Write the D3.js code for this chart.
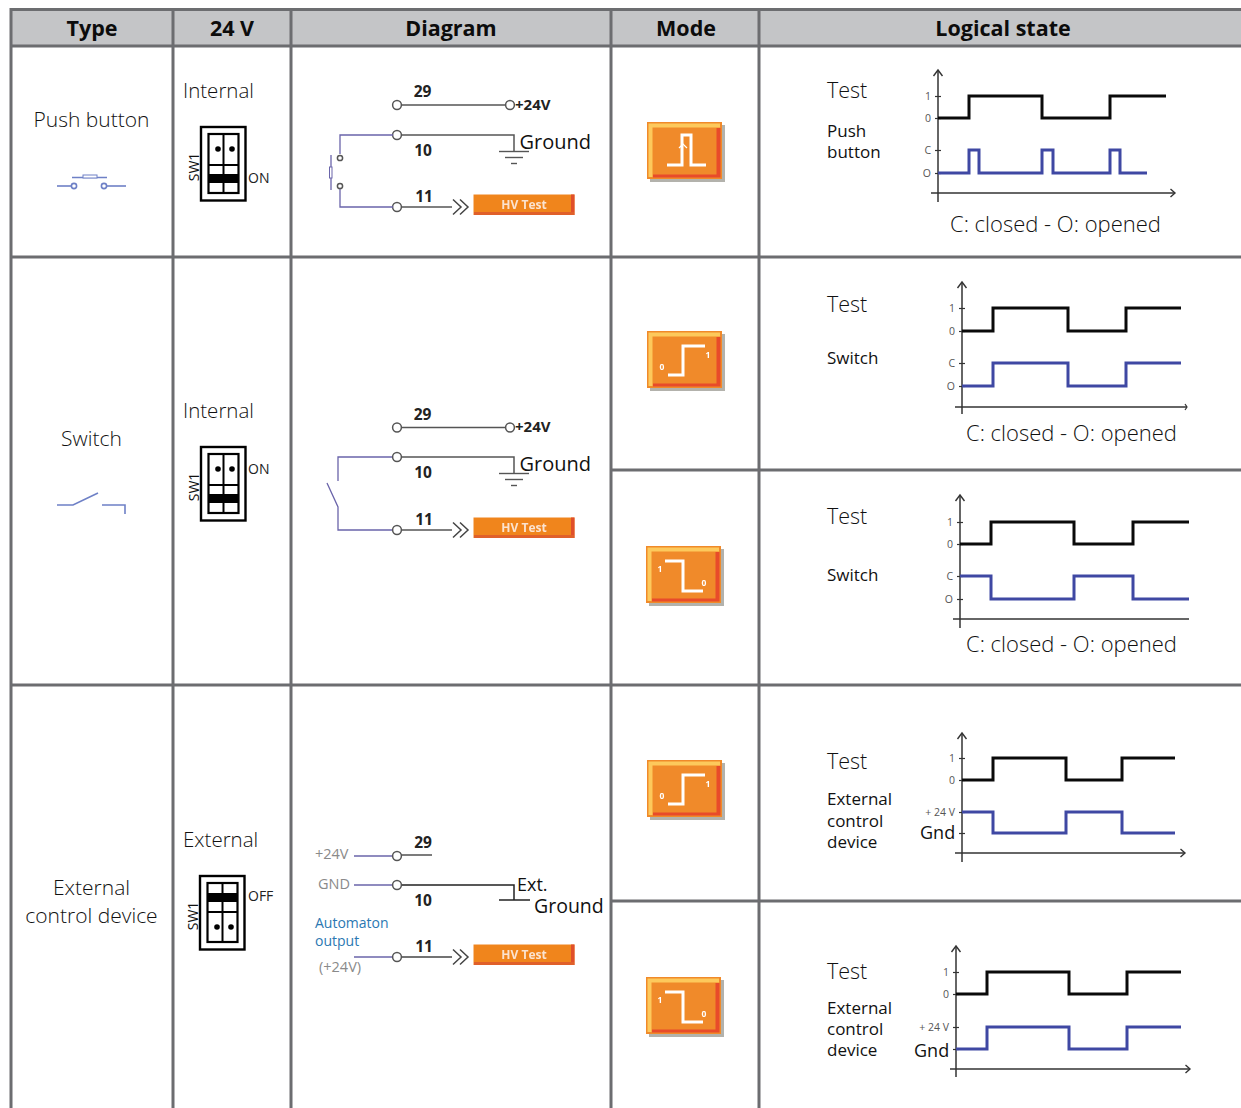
<!DOCTYPE html>
<html><head><meta charset="utf-8">
<style>html,body{margin:0;padding:0;background:#fff;overflow:hidden}svg{display:block}text{font-family:"Open Sans",sans-serif}</style>
<script src="https://cdnjs.cloudflare.com/ajax/libs/d3/7.9.0/d3.min.js"></script>
</head><body><svg id="c" width="1241" height="1108"><defs><filter id="soft" x="-5%" y="-5%" width="110%" height="110%"><feGaussianBlur stdDeviation="0.55"/></filter></defs></svg>
<script>
// ---- table text ----
const headers = ["Type","24 V","Diagram","Mode","Logical state"];
const typeLabels = [["Push button"],["Switch"],["External","control device"]];
const supplyLabels = ["Internal","Internal","External"];
const dipLabels = ["ON","ON","OFF"];
const modeIcons = ["pulse","rise","fall","rise","fall"];
const panelNames = [["Push","button"],["Switch"],["Switch"],["External","control","device"],["External","control","device"]];
const captions = ["C: closed - O: opened","C: closed - O: opened","C: closed - O: opened","",""];
const lowerTicks = [["O","C"],["O","C"],["O","C"],["","+ 24 V"],["","+ 24 V"]];
const sideNote = ["","","","Gnd","Gnd"];
// ---- logical state signals: [time, level] ----
const testSignals = [
 [[0,0],[31,1],[104,0],[172,1],[228,1]],
 [[0,0],[31,1],[106,0],[164,1],[219,1]],
 [[0,0],[31,1],[114,0],[173,1],[229,1]],
 [[0,0],[31,1],[104,0],[160,1],[213,1]],
 [[0,0],[31,1],[113,0],[171,1],[225,1]]
];
const contactSignals = [
 [[0,0],[31,1],[41,0],[104,1],[115,0],[172,1],[182,0],[209,0]],
 [[0,0],[31,1],[106,0],[164,1],[219,1]],
 [[0,1],[31,0],[114,1],[173,0],[229,0]],
 [[0,1],[31,0],[104,1],[160,0],[213,0]],
 [[0,0],[31,1],[113,0],[171,1],[225,1]]
];
// ---- layout only ----
const G="#6c6d70", HEAD="#c4c5c7", BLUE="#3f48a3", WIRE="#6a64aa", SYM="#6e80c6";
const colX=[11,173,291,611,759];
const rowLayout=[{top:46,bot:257,type:127,sup:98,dip:127,on:56},{top:257,bot:685,type:446,sup:418,dip:447,on:27},{top:685,bot:1108,type:895,sup:847,dip:876,on:25}];
const panels=[
 {ax:938,top:70,bot:202,hy:193,hx0:931,hx1:1175,arrow:true,y1:96,y0:118,c1:150,c0:173,tY:98,nY:[137,158],capX:950,capY:232},
 {ax:962,top:282,bot:414,hy:407,hx0:955,hx1:1187,arrow:false,y1:308,y0:331,c1:363,c0:386,tY:312,nY:[364],capX:966,capY:441},
 {ax:960,top:495,bot:628,hy:619,hx0:953,hx1:1189,arrow:false,y1:522,y0:544,c1:576,c0:599,tY:524,nY:[581],capX:966,capY:652},
 {ax:962,top:733,bot:862,hy:853,hx0:955,hx1:1185,arrow:true,y1:758,y0:780,c1:812,c0:833,tY:769,nY:[805,827,848],noteX:920,noteY:839},
 {ax:956,top:946,bot:1077,hy:1069,hx0:950,hx1:1190,arrow:true,y1:972,y0:994,c1:1027,c0:1049,tY:979,nY:[1014,1035,1056],noteX:914,noteY:1057}
];
const iconLayout=[[647,122],[647,331],[646,546],[647,760],[646,977]];
const iconPaths={pulse:[[20,43],[35,43],[35,13],[44,13],[44,43],[59,43]],rise:[[21,44],[36,44],[36,15],[58,15]],fall:[[19,15],[37,15],[37,45],[57,45]]};
const iconMarks={rise:[["0",15,39],["1",61,27]],fall:[["1",14,26],["0",58,40]],pulse:[]};

const svg=d3.select("#c");
const line=d3.line();
function txt(g,s,x,y,size,o={}){return g.append("text").attr("x",x).attr("y",y).attr("font-size",size).attr("fill",o.fill||"#111")
 .attr("font-weight",o.w||400).attr("text-anchor",o.a||"start").attr("font-family",o.f||null).text(s);}
function path(g,pts,stroke,w,o={}){return g.append("path").attr("d",line(pts)+(o.close?"Z":"")).attr("fill",o.fill||"none").attr("stroke",stroke).attr("stroke-width",w);}

// ---- header and table ----
svg.append("rect").attr("x",11).attr("y",9).attr("width",1230).attr("height",37).attr("fill",HEAD);
const colCenters=[92,232,451,686,1003];
headers.forEach((h,i)=>txt(svg,h,colCenters[i],36,21.5,{w:700,a:"middle",fill:"#0c0c0c"}));
const grid=svg.append("g").attr("stroke",G).attr("stroke-width",3);
colX.forEach(x=>grid.append("line").attr("x1",x).attr("x2",x).attr("y1",8).attr("y2",1108));
[[9.5,10],[46,10],[257,10],[685,10],[470,611],[901,611]].forEach(([y,x0])=>grid.append("line").attr("x1",x0).attr("x2",1241).attr("y1",y).attr("y2",y));

// ---- type column ----
rowLayout.forEach((r,i)=>{
 typeLabels[i].forEach((t,k)=>txt(svg,t,91.5,r.type+k*28,21,{a:"middle",fill:"#111",w:300}));
 txt(svg,supplyLabels[i],183,r.sup,20.5,{fill:"#111",w:300});
 drawDip(svg,r.dip,i<2,dipLabels[i],i===2?-1:0,r.on);
});
const sym=svg.append("g");
path(sym,[[57,186],[71,186]],SYM,1.6);path(sym,[[107,186],[126,186]],SYM,1.6);
[74,104].forEach(x=>sym.append("circle").attr("cx",x).attr("cy",186).attr("r",2.6).attr("fill","#fff").attr("stroke",SYM).attr("stroke-width",1.6));
path(sym,[[72,177.5],[107,177.5]],SYM,1.4);
sym.append("rect").attr("x",83).attr("y",175).attr("width",14).attr("height",3).attr("fill","#fff").attr("stroke",SYM).attr("stroke-width",1);
path(sym,[[57,505],[73,505],[98,493]],SYM,1.6);
path(sym,[[102,505],[125,505],[125,514]],SYM,1.6);

function drawDip(g,top,onLow,label,dx,labelDy){
 const x=201+dx, s=g.append("g").attr("transform",`translate(${x},${top})`);
 s.append("rect").attr("x",0).attr("y",0).attr("width",44.5).attr("height",73.5).attr("fill","#fff").attr("stroke","#000").attr("stroke-width",2.4);
 s.append("rect").attr("x",7.5).attr("y",7).attr("width",30).attr("height",59).attr("fill","#fff").attr("stroke","#000").attr("stroke-width",2.2);
 path(s,[[22.5,7],[22.5,66]],"#000",2);
 if(onLow){
  path(s,[[7.5,38],[37.5,38]],"#000",2);
  s.append("rect").attr("x",7.5).attr("y",47).attr("width",30).attr("height",9).attr("fill","#000");
  [17,31].forEach(cx=>s.append("circle").attr("cx",cx).attr("cy",22).attr("r",2.8).attr("fill","#000"));
 } else {
  path(s,[[7.5,36],[37.5,36]],"#000",2);
  s.append("rect").attr("x",7.5).attr("y",17).attr("width",30).attr("height",9).attr("fill","#000");
  [17,31].forEach(cx=>s.append("circle").attr("cx",cx).attr("cy",51).attr("r",2.8).attr("fill","#000"));
 }
 txt(g,label,x+47+(onLow?0:1),top+labelDy,14,{fill:"#222",w:400});
 g.append("text").attr("transform",`translate(${x-2},${top+40}) rotate(-90)`).attr("text-anchor","middle").attr("font-size",14).attr("fill","#111").text("SW1");
}

// ---- wiring diagrams ----
function ring(g,x,y,r=4.4){g.append("circle").attr("cx",x).attr("cy",y).attr("r",r).attr("fill","#fff").attr("stroke","#555").attr("stroke-width",1.5);}
const LS="Liberation Sans";
function hv(g,y){
 const b=g.append("g").attr("filter","url(#soft)");
 b.append("rect").attr("x",473.5).attr("y",y).attr("width",101).attr("height",20.5).attr("fill","#f0851f");
 b.append("rect").attr("x",571).attr("y",y).attr("width",3.5).attr("height",20.5).attr("fill","#e0502a");
 b.append("rect").attr("x",474).attr("y",y+17.5).attr("width",100).attr("height",3).attr("fill","#e0612a");
 txt(b,"HV Test",524,y+14.5,12,{a:"middle",fill:"#fbe3cf",w:700,f:LS});
}
function chev(g,y){
 const s=g.append("g");
 [453,460].forEach(x=>path(s,[[x,y-7.5],[x+8,y],[x,y+7.5]],"#444",1.5));
}
function ground(g,x,y){
 [[0,15],[7,9],[12,3]].forEach(([d,h],i)=>path(g,[[x-h,y+i*6],[x+h,y+i*6]],"#555",1.4));
}
function num(g,s,x,y){txt(g,s,x,y,15.5,{a:"middle",w:700,f:LS,fill:"#222"});}
function pushOrSwitch(oy,mode){
 const d=svg.append("g");
 const y29=oy,y10=oy+(mode==="push"?30:29.5),y11=oy+(mode==="push"?102:102.5);
 path(d,[[401,y29],[505,y29]],"#555",1.5);ring(d,397,y29);ring(d,510,y29);
 txt(d,"+24V",515,y29+4.5,15,{w:700,f:LS,fill:"#222"});
 num(d,"29",422.5,y29-8);
 path(d,[[401,y10],[514,y10],[514,y10+16]],"#555",1.5);ring(d,397,y10);
 ground(d,514,y10+16.5);
 txt(d,"Ground",519.5,y10+13.5,20,{fill:"#111"});
 num(d,"10",423,y10+21);
 path(d,[[401,y11],[452,y11]],"#555",1.5);ring(d,397,y11);
 num(d,"11",424,y11-5);
 chev(d,y11);
 hv(d,y11-12.5);
 if(mode==="push"){
  path(d,[[393,y10],[340,y10],[340,y10+19]],WIRE,1.3);
  path(d,[[340,y11-18],[340,y11],[393,y11]],WIRE,1.3);
  ring(d,340,y10+23,2.6);ring(d,340,y11-21,2.6);
  path(d,[[331,y10+20],[331,y10+55]],WIRE,1.3);
  d.append("rect").attr("x",329.5).attr("y",y10+32).attr("width",2.5).attr("height",11).attr("fill","#fff").attr("stroke",WIRE).attr("stroke-width",1);
 } else {
  path(d,[[392,y10],[338,y10],[338,y10+24]],WIRE,1.3);
  path(d,[[327,y10+26],[338,y10+50],[338,y11],[392,y11]],WIRE,1.3);
 }
}
pushOrSwitch(105,"push");
pushOrSwitch(427.5,"switch");
(function(){
 const d=svg.append("g");
 const grey="#8a8a8a";
 txt(d,"+24V",315,859,14.5,{fill:grey,f:LS});
 txt(d,"GND",318,889,14.5,{fill:grey,f:LS});
 txt(d,"(+24V)",319,972,14.5,{fill:grey,f:LS});
 txt(d,"Automaton",315,928,14,{fill:"#2b78b2"});
 txt(d,"output",315,946,14,{fill:"#2b78b2"});
 [[856],[885],[957]].forEach(([y])=>path(d,[[354,y],[393,y]],WIRE,1.3));
 path(d,[[401,855],[432,855]],"#444",1.4);ring(d,397,856);
 num(d,"29",423,848);
 path(d,[[401,885],[514,885],[514,900]],"#222",1.5);ring(d,397,885);
 path(d,[[499,900],[530,900]],"#222",1.5);
 num(d,"10",423,906);
 txt(d,"Ext.",517,891,18,{fill:"#111"});
 txt(d,"Ground",534,913,19.5,{fill:"#111"});
 path(d,[[401,957],[452,957]],"#444",1.4);ring(d,397,957);
 num(d,"11",424,952);
 chev(d,957);hv(d,944.5);
})();

// ---- mode icons ----
modeIcons.forEach((m,i)=>{
 const [x,y]=iconLayout[i], g=svg.append("g").attr("transform",`translate(${x},${y})`).attr("filter","url(#soft)");
 g.append("rect").attr("x",3).attr("y",3).attr("width",75).attr("height",57).attr("fill","#b3b2ac");
 g.append("rect").attr("width",75).attr("height",57).attr("fill","#f08a2a");
 path(g,[[1.5,55],[1.5,1.5],[73,1.5],[73,5.5],[5.5,5.5],[5.5,55]],"none",0,{fill:"#fdc95c",close:true});
 path(g,[[6,55.5],[73.5,55.5],[73.5,6],[69.5,6],[69.5,52.5],[6,52.5]],"none",0,{fill:"#e84b2a",close:true});
 path(g,iconPaths[m],"#fff",3);
 if(m==="pulse")path(g,[[32,26],[36,22],[40,26]],"#fff",1.2);
 iconMarks[m].forEach(([s,tx,ty])=>txt(g,s,tx,ty,8.5,{a:"middle",w:700,fill:"#fff"}));
});

// ---- logical state panels, drawn through scales and axes ----
panels.forEach((p,i)=>{
 const g=svg.append("g");
 txt(g,"Test",827,p.tY,21.5,{fill:"#111",w:300});
 panelNames[i].forEach((n,k)=>txt(g,n,827,p.nY[k],17,{fill:"#111"}));
 if(captions[i])txt(g,captions[i],p.capX,p.capY,22,{fill:"#111",w:300});
 if(sideNote[i])txt(g,sideNote[i],p.noteX,p.noteY,18,{fill:"#111"});
 const x=d3.scaleLinear().domain([0,100]).range([p.ax,p.ax+100]);
 const yT=d3.scaleLinear().domain([0,1]).range([p.y0,p.y1]);
 const yC=d3.scaleLinear().domain([0,1]).range([p.c0,p.c1]);
 path(g,[[p.ax,p.top],[p.ax,p.bot]],"#333",1.5);
 path(g,[[p.ax-4.5,p.top+6],[p.ax,p.top],[p.ax+4.5,p.top+6]],"#333",1.4);
 path(g,[[p.hx0,p.hy],[p.hx1,p.hy]],"#333",1.5);
 if(p.arrow)path(g,[[p.hx1-4.5,p.hy-4],[p.hx1,p.hy],[p.hx1-4.5,p.hy+4]],"#333",1.4);
 else if(i===1)path(g,[[p.hx1-2,p.hy-3],[p.hx1,p.hy],[p.hx1-2,p.hy+3]],"#333",1.2);
 const axisOf=(scale,labels)=>{
  const a=d3.axisLeft(scale).tickValues([0,1]).tickFormat(v=>labels[v]).tickSizeOuter(0).tickSize(6).tickPadding(4);
  const ag=g.append("g").attr("transform",`translate(${p.ax+3},0)`).call(a);
  ag.select(".domain").remove();
  ag.selectAll("line").attr("stroke","#333").attr("stroke-width",1.2);
  ag.selectAll("text").attr("font-size",10.5).attr("fill","#555").attr("font-family","'Open Sans'");
 };
 axisOf(yT,["0","1"]);
 axisOf(yC,lowerTicks[i]);
 const st=(scale)=>d3.line().x(d=>x(d[0])).y(d=>scale(d[1])).curve(d3.curveStepAfter);
 g.append("path").attr("d",st(yT)(testSignals[i])).attr("fill","none").attr("stroke","#0a0a0a").attr("stroke-width",3);
 g.append("path").attr("d",st(yC)(contactSignals[i])).attr("fill","none").attr("stroke",BLUE).attr("stroke-width",3);
});
</script></body></html>
